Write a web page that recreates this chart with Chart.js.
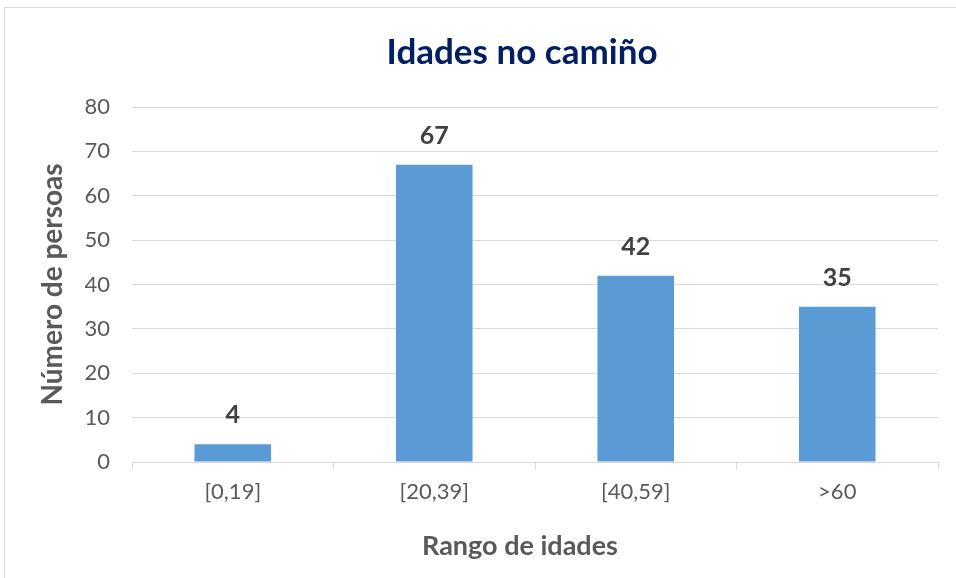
<!DOCTYPE html>
<html>
<head>
<meta charset="utf-8">
<script src="https://cdn.jsdelivr.net/npm/chart.js@4"></script>
<style>
  html, body { margin: 0; padding: 0; background: #fff; overflow: hidden; }
  #frame { position: absolute; left: 4px; top: 7px; width: 1000px; height: 700px; border: 1px solid #d9d9d9; }
  #wrap { position: absolute; left: 0; top: 0; width: 956px; height: 578px; }
</style>
</head>
<body>
<div id="frame"></div>
<div id="wrap"><canvas id="chart"></canvas></div>
<script>
const categories = ['[0,19]', '[20,39]', '[40,59]', '>60'];
const persons = [4, 67, 42, 35];
const yTicks = [0, 10, 20, 30, 40, 50, 60, 70, 80];
const chartTitle = 'Idades no camiño';
const xTitle = 'Rango de idades';

const font = 'Lato, "Open Sans", sans-serif';

// value above every bar; chart title and x title are centred on the whole Excel frame,
// which is wider than the visible window
const extras = {
   id: 'extras',
   afterDatasetsDraw(chart) {
      const ctx = chart.ctx;
      const meta = chart.getDatasetMeta(0);
      ctx.save();
      ctx.font = 'bold 25px ' + font;
      ctx.fillStyle = '#404040';
      ctx.textAlign = 'center';
      ctx.textBaseline = 'middle';
      meta.data.forEach((bar, i) => {
         ctx.fillText(String(persons[i]), bar.x, bar.y - 29);
      });
      ctx.font = 'bold 35px ' + font;
      ctx.fillStyle = '#002060';
      ctx.fillText(chartTitle, 522, 53);
      ctx.font = 'bold 27px ' + font;
      ctx.fillStyle = '#595959';
      ctx.fillText(xTitle, 520, 546);
      ctx.restore();
   }
};

new Chart(document.getElementById('chart'), {
   type: 'bar',
   data: {
      labels: categories,
      datasets: [{
         data: persons,
         backgroundColor: '#5b9bd5',
         borderWidth: 0,
         barPercentage: 0.38,
         categoryPercentage: 1
      }]
   },
   options: {
      responsive: true,
      maintainAspectRatio: false,
      animation: false,
      layout: { padding: { left: 0, right: 18, top: 107, bottom: 0 } },
      scales: {
         x: {
            grid: { drawOnChartArea: false, drawTicks: true, tickLength: 7, color: '#d9d9d9', offset: true },
            border: { color: '#d9d9d9', width: 1 },
            ticks: { color: '#595959', font: { family: font, size: 22 }, padding: 10 },
            afterFit: scale => { scale.height = 116; }
         },
         y: {
            min: 0, max: 80,
            afterBuildTicks: scale => { scale.ticks = yTicks.map(v => ({ value: v })); },
            grid: { color: '#d9d9d9', drawTicks: false },
            border: { display: false },
            ticks: { color: '#595959', font: { family: font, size: 22 }, padding: 22 },
            title: {
               display: true, text: 'Número de persoas', color: '#595959',
               font: { family: font, size: 28, weight: 'bold' }, padding: { top: 36, bottom: 0 }
            },
            afterFit: scale => { scale.width = 132; }
         }
      },
      plugins: {
         legend: { display: false },
         tooltip: { enabled: false },
         title: { display: false }
      }
   },
   plugins: [extras]
});
</script>
</body>
</html>
